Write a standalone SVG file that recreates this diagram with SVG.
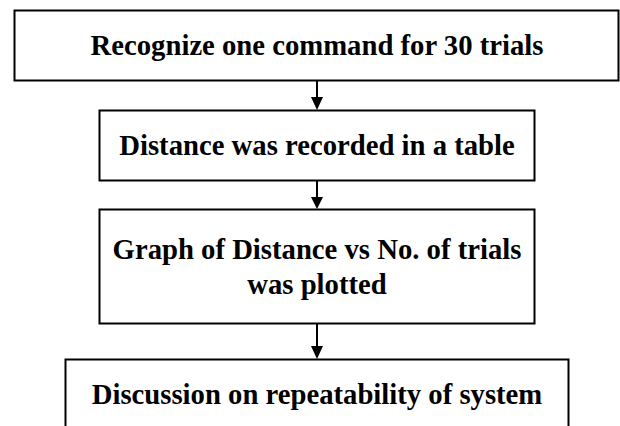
<svg xmlns="http://www.w3.org/2000/svg" width="620" height="426" viewBox="0 0 620 426">
  <style>
    .box { fill: #ffffff; stroke: #000000; stroke-width: 2; }
    .label { font-family: "Liberation Serif", "Times New Roman", serif; font-weight: bold; font-size: 28.7px; fill: #000000; text-anchor: middle; }
    .link { stroke: #000000; stroke-width: 2; fill: none; }
    .head { fill: #000000; stroke: none; }
  </style>
  <rect width="620" height="426" fill="#ffffff"/>

  <g id="connectors">
    <line class="link" x1="317" y1="81" x2="317" y2="98"/>
    <polygon class="head" points="311,97 323,97 317,110"/>
    <line class="link" x1="317" y1="181" x2="317" y2="198"/>
    <polygon class="head" points="311,197 323,197 317,209"/>
    <line class="link" x1="317" y1="324" x2="317" y2="347"/>
    <polygon class="head" points="311,346 323,346 317,359"/>
  </g>

  <g id="step-recognize">
    <rect class="box" x="14.5" y="10.5" width="604" height="70"/>
    <text class="label" x="317" y="55">Recognize one command for 30 trials</text>
  </g>

  <g id="step-record">
    <rect class="box" x="99.5" y="110.5" width="435" height="70"/>
    <text class="label" x="317" y="155">Distance was recorded in a table</text>
  </g>

  <g id="step-plot">
    <rect class="box" x="99.5" y="209.5" width="435" height="114"/>
    <text class="label" x="317" y="259">Graph of Distance vs No. of trials</text>
    <text class="label" x="317" y="294">was plotted</text>
  </g>

  <g id="step-discuss">
    <rect class="box" x="65.5" y="359.5" width="503" height="90"/>
    <text class="label" x="317" y="404">Discussion on repeatability of system</text>
  </g>
</svg>
